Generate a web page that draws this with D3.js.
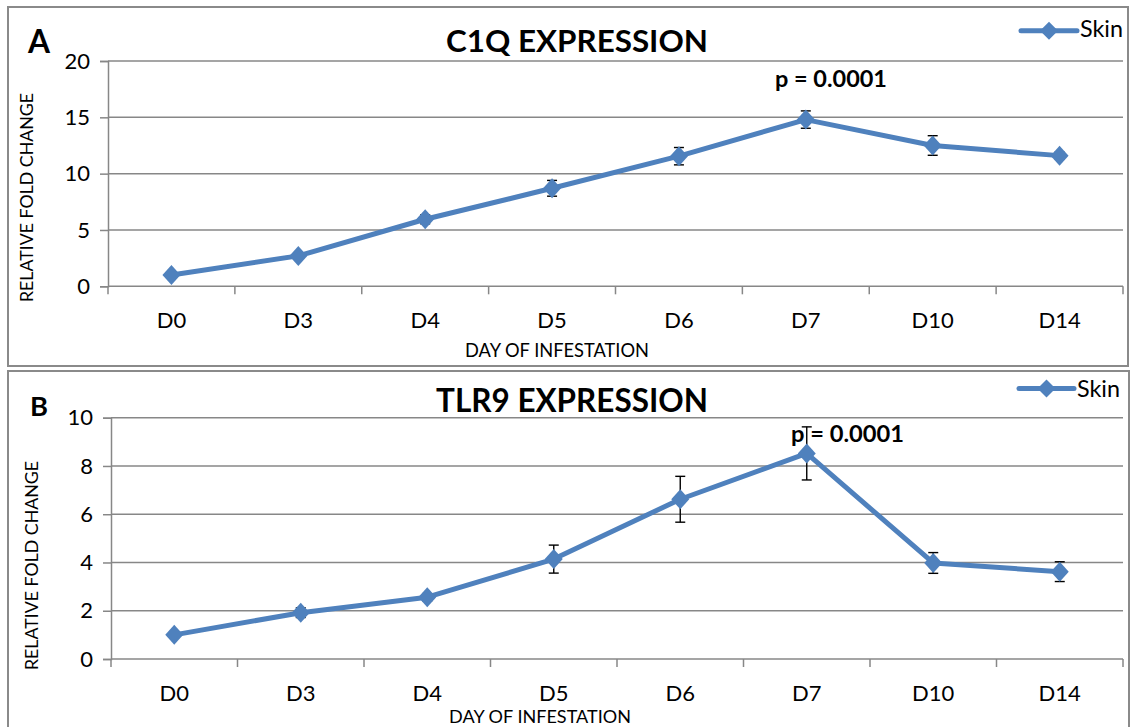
<!DOCTYPE html>
<html>
<head>
<meta charset="utf-8">
<script src="https://cdn.jsdelivr.net/npm/d3@7"></script>
<style>
  html, body { margin: 0; padding: 0; background: #fff; }
  svg { display: block; }
  text { font-family: Lato, "Open Sans", "Liberation Sans", sans-serif; fill: #000; }
</style>
</head>
<body>
<svg id="fig" width="1130" height="727"></svg>
<script>
// Sampling days
const days = ["D0", "D3", "D4", "D5", "D6", "D7", "D10", "D14"];

// C1Q relative fold change (skin) and its error
const c1qValues = [1.0, 2.7, 5.95, 8.7, 11.55, 14.8, 12.5, 11.6];
const c1qErrors = [0.0, 0.2, 0.4, 0.7, 0.77, 0.77, 0.87, 0.3];
const c1qTicks = [0, 5, 10, 15, 20];

// TLR9 relative fold change (skin) and its error
const tlr9Values = [1.0, 1.92, 2.56, 4.14, 6.62, 8.52, 3.98, 3.62];
const tlr9Errors = [0.0, 0.2, 0.15, 0.58, 0.95, 1.1, 0.43, 0.41];
const tlr9Ticks = [0, 2, 4, 6, 8, 10];

const seriesName = "Skin";
const pLabel = "p = 0.0001";

const BLUE = "#4f81bd";
const GRID = "#878787";
const svg = d3.select("#fig");

// Scale a text's font size so its rendered width matches w
function fitWidth(sel, w) {
  sel.style("font-size", "100px");
  const len = sel.node().getComputedTextLength();
  sel.style("font-size", (100 * w / len).toFixed(2) + "px");
  return sel;
}

function diamond(g, cx, cy, hw, hh) {
  g.append("path")
    .attr("d", `M${cx},${cy - hh}L${cx + hw},${cy}L${cx},${cy + hh}L${cx - hw},${cy}Z`)
    .attr("fill", BLUE);
}

function panel(cfg) {
  const g = svg.append("g");

  // frame
  g.append("rect")
    .attr("x", cfg.frame[0]).attr("y", cfg.frame[1])
    .attr("width", cfg.frame[2]).attr("height", cfg.frame[3])
    .attr("fill", "none").attr("stroke", "#8a8a8a").attr("stroke-width", 2);

  const x = d3.scaleBand().domain(days).range(cfg.xRange);
  const y = d3.scaleLinear().domain(cfg.yDomain).range(cfg.yRange);

  // horizontal gridlines
  g.append("g").selectAll("line").data(cfg.ticks).join("line")
    .attr("x1", cfg.xRange[0]).attr("x2", cfg.xRange[1])
    .attr("y1", d => y(d)).attr("y2", d => y(d))
    .attr("stroke", GRID).attr("stroke-width", 1.5);

  // y axis
  const yAxis = g.append("g")
    .attr("transform", `translate(${cfg.xRange[0]},0)`)
    .call(d3.axisLeft(y).tickValues(cfg.ticks).tickSize(8).tickPadding(cfg.yPad));
  yAxis.select(".domain").attr("stroke", GRID).attr("stroke-width", 1.5);
  yAxis.selectAll(".tick line").attr("stroke", GRID).attr("stroke-width", 1.5);
  yAxis.selectAll(".tick text")
    .style("font-family", "Lato, sans-serif").style("font-size", "22px").attr("fill", "#000");

  // x axis: ticks on category boundaries, labels centred in bands
  const bounds = days.map(d => x(d)).concat([cfg.xRange[1]]);
  const xg = g.append("g").attr("transform", `translate(0,${cfg.yRange[0]})`);
  xg.selectAll("line").data(bounds).join("line")
    .attr("x1", d => d).attr("x2", d => d)
    .attr("y1", 0).attr("y2", 8)
    .attr("stroke", GRID).attr("stroke-width", 1.5);
  xg.selectAll("text").data(days).join("text")
    .attr("x", d => x(d) + x.bandwidth() / 2)
    .attr("y", cfg.xLabelDy)
    .attr("text-anchor", "middle")
    .style("font-size", "22px")
    .text(d => d);

  const cx = i => x(days[i]) + x.bandwidth() / 2;

  // error bars, drawn beneath the series
  const eb = g.append("g").attr("stroke", "#000").attr("stroke-width", 1.4);
  cfg.values.forEach((v, i) => {
    const e = cfg.errors[i];
    if (!e) return;
    const c = cx(i), top = y(v + e), bot = y(v - e);
    eb.append("line").attr("x1", c).attr("x2", c).attr("y1", top).attr("y2", bot);
    eb.append("line").attr("x1", c - 5).attr("x2", c + 5).attr("y1", top).attr("y2", top);
    eb.append("line").attr("x1", c - 5).attr("x2", c + 5).attr("y1", bot).attr("y2", bot);
  });

  // series line
  const line = d3.line().x((d, i) => cx(i)).y(d => y(d));
  g.append("path").datum(cfg.values)
    .attr("d", line)
    .attr("fill", "none").attr("stroke", BLUE)
    .attr("stroke-width", 5).attr("stroke-linejoin", "round");

  // markers
  cfg.values.forEach((v, i) => diamond(g, cx(i), y(v), 9, 10));

  // panel letter
  fitWidth(g.append("text").attr("x", cfg.letter[0]).attr("y", cfg.letter[1])
    .style("font-weight", "bold").text(cfg.letterText), cfg.letter[2]);

  // title
  fitWidth(g.append("text").attr("x", cfg.title[0]).attr("y", cfg.title[1])
    .attr("text-anchor", "middle").style("font-weight", "bold").text(cfg.titleText), cfg.title[2]);

  // axis titles
  fitWidth(g.append("text").attr("x", cfg.xTitle[0]).attr("y", cfg.xTitle[1])
    .attr("text-anchor", "middle").text("DAY OF INFESTATION"), cfg.xTitle[2]);
  fitWidth(g.append("text")
    .attr("transform", `translate(${cfg.yTitle[0]},${cfg.yTitle[1]}) rotate(-90)`)
    .attr("text-anchor", "middle").text("RELATIVE FOLD CHANGE"), cfg.yTitle[2]);

  // significance note
  fitWidth(g.append("text").attr("x", cfg.p[0]).attr("y", cfg.p[1])
    .style("font-weight", "bold").text(pLabel), cfg.p[2]);

  // legend
  const lg = cfg.legend;
  g.append("line").attr("x1", lg[0]).attr("x2", lg[1]).attr("y1", lg[2]).attr("y2", lg[2])
    .attr("stroke", BLUE).attr("stroke-width", 5).attr("stroke-linecap", "round");
  diamond(g, (lg[0] + lg[1]) / 2, lg[2], 9, 9);
  fitWidth(g.append("text").attr("x", lg[3]).attr("y", lg[4]).text(seriesName), 43);
}

panel({
  frame: [8, 7, 1120, 359],
  xRange: [108, 1123], yRange: [286.3, 61], yDomain: [0, 20],
  ticks: c1qTicks, values: c1qValues, errors: c1qErrors,
  yPad: 10, xLabelDy: 42,
  letter: [28, 53, 22], letterText: "A",
  title: [577, 52, 262], titleText: "C1Q EXPRESSION",
  xTitle: [557, 356.5, 184],
  yTitle: [33, 197.5, 209],
  p: [775, 87, 112],
  legend: [1021, 1077, 30.7, 1080, 37]
});

panel({
  frame: [8, 371, 1121, 370],
  xRange: [111, 1123], yRange: [659, 417.7], yDomain: [0, 10],
  ticks: tlr9Ticks, values: tlr9Values, errors: tlr9Errors,
  yPad: 10, xLabelDy: 42,
  letter: [30, 416, 18], letterText: "B",
  title: [572, 412, 272], titleText: "TLR9 EXPRESSION",
  xTitle: [540, 722.5, 182],
  yTitle: [38, 565.5, 209],
  p: [791, 442, 113],
  legend: [1019, 1074, 388.5, 1077, 397]
});
</script>
</body>
</html>
